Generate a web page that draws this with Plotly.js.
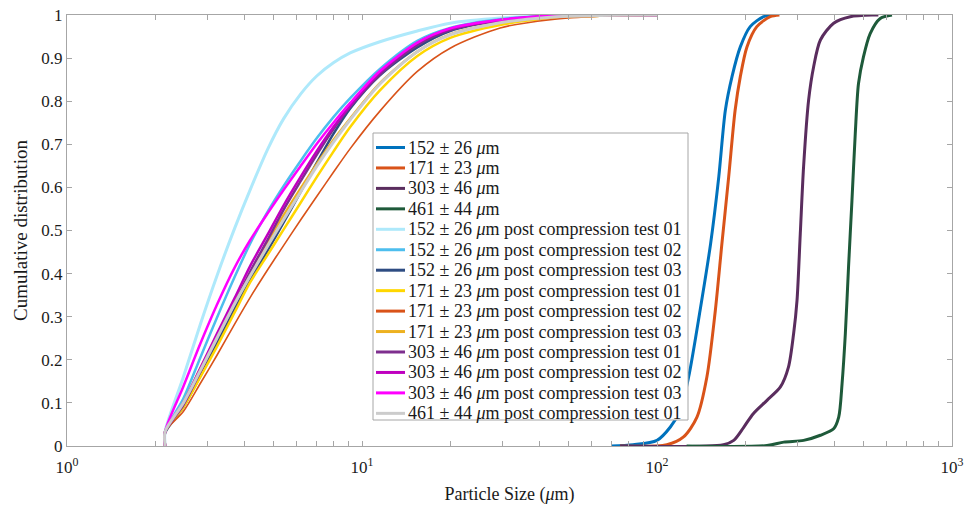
<!DOCTYPE html>
<html>
<head>
<meta charset="utf-8">
<script src="https://cdn.plot.ly/plotly-3.0.1.min.js"></script>
<style>
  html, body { margin: 0; padding: 0; background: #ffffff; }
  #chart { width: 967px; height: 508px; }
</style>
</head>
<body>
<div id="chart"></div>
<script>
// Cumulative particle size distributions: as-received powders and post-compression samples.

// ---- as-received powders ----
const blueX   = [70, 83, 100, 111, 120, 128, 140, 152, 162, 170.5, 179.6, 191.6, 207, 229.7, 250];
const blueY   = [0, 0.003, 0.013, 0.044, 0.083, 0.16, 0.315, 0.47, 0.625, 0.779, 0.857, 0.926, 0.973, 0.996, 1];
const orangeX = [75, 108, 123, 136.6, 147.6, 157.7, 166, 175, 184, 191.6, 201.8, 218, 242, 260];
const orangeY = [0, 0.003, 0.021, 0.067, 0.16, 0.315, 0.47, 0.625, 0.779, 0.857, 0.926, 0.973, 0.996, 1];
const plumX   = [75, 168, 182, 197, 212, 236, 262, 279, 290.5, 298.3, 306, 314, 326.6, 339.6, 358, 397, 452, 542, 563];
const plumY   = [0, 0.003, 0.013, 0.044, 0.075, 0.106, 0.137, 0.183, 0.261, 0.338, 0.493, 0.648, 0.803, 0.88, 0.942, 0.981, 0.996, 1, 1];
const greenX  = [126, 236, 269, 314, 358, 397, 413, 424, 435, 446, 458, 470, 482, 501, 528, 571, 626];
const greenY  = [0, 0.001, 0.009, 0.013, 0.025, 0.04, 0.067, 0.145, 0.261, 0.416, 0.57, 0.725, 0.841, 0.903, 0.957, 0.992, 1];

// ---- post-compression samples (shared size grid, µm) ----
const postX = [2.15, 2.15, 2.48, 2.83, 3.22, 3.7, 4.18, 4.8, 5.42, 6.2, 7.04, 8.0, 9.12, 11.5, 15.4, 19.9, 29.4, 43.5, 64, 100];
const p152t1 = [0, 0.033, 0.16, 0.282, 0.394, 0.505, 0.595, 0.69, 0.759, 0.817, 0.859, 0.889, 0.912, 0.938, 0.963, 0.981, 0.993, 0.998, 1, 1];
const p152t2 = [0, 0.033, 0.11, 0.205, 0.297, 0.392, 0.47, 0.545, 0.603, 0.662, 0.715, 0.763, 0.807, 0.875, 0.94, 0.97, 0.99, 0.998, 1, 1];
const p152t3 = [0, 0.030, 0.09, 0.162, 0.237, 0.318, 0.385, 0.455, 0.518, 0.59, 0.658, 0.724, 0.783, 0.86, 0.925, 0.963, 0.987, 0.997, 1, 1];
const p171t1 = [0, 0.033, 0.09, 0.16, 0.23, 0.31, 0.38, 0.445, 0.502, 0.565, 0.625, 0.683, 0.74, 0.825, 0.905, 0.947, 0.977, 0.993, 0.998, 1];
const p171t2 = [0, 0.033, 0.08, 0.145, 0.21, 0.283, 0.345, 0.41, 0.465, 0.525, 0.58, 0.635, 0.69, 0.777, 0.869, 0.923, 0.97, 0.989, 0.997, 1];
const p171t3 = [0, 0.033, 0.10, 0.18, 0.255, 0.335, 0.403, 0.475, 0.535, 0.598, 0.655, 0.71, 0.76, 0.842, 0.915, 0.955, 0.982, 0.995, 0.999, 1];
const p303t1 = [0, 0.033, 0.095, 0.172, 0.25, 0.33, 0.405, 0.48, 0.548, 0.615, 0.677, 0.735, 0.787, 0.862, 0.93, 0.965, 0.987, 0.997, 1, 1];
const p303t2 = [0, 0.033, 0.10, 0.18, 0.26, 0.343, 0.418, 0.492, 0.558, 0.625, 0.685, 0.74, 0.79, 0.867, 0.935, 0.968, 0.988, 0.998, 1, 1];
const p303t3 = [0, 0.033, 0.138, 0.237, 0.327, 0.414, 0.478, 0.541, 0.594, 0.65, 0.702, 0.75, 0.796, 0.87, 0.936, 0.969, 0.989, 0.998, 1, 1];
const p461t1 = [0, 0.033, 0.10, 0.175, 0.25, 0.33, 0.395, 0.465, 0.525, 0.59, 0.65, 0.705, 0.757, 0.84, 0.915, 0.954, 0.982, 0.995, 0.999, 1];

// ---- series names ----
const names = [
  '152 ± 26 <i>μ</i>m',
  '171 ± 23 <i>μ</i>m',
  '303 ± 46 <i>μ</i>m',
  '461 ± 44 <i>μ</i>m',
  '152 ± 26 <i>μ</i>m post compression test 01',
  '152 ± 26 <i>μ</i>m post compression test 02',
  '152 ± 26 <i>μ</i>m post compression test 03',
  '171 ± 23 <i>μ</i>m post compression test 01',
  '171 ± 23 <i>μ</i>m post compression test 02',
  '171 ± 23 <i>μ</i>m post compression test 03',
  '303 ± 46 <i>μ</i>m post compression test 01',
  '303 ± 46 <i>μ</i>m post compression test 02',
  '303 ± 46 <i>μ</i>m post compression test 03',
  '461 ± 44 <i>μ</i>m post compression test 01'
];

// ---- axis tick labels ----
const yTickVals = [0, 0.1, 0.2, 0.3, 0.4, 0.5, 0.6, 0.7, 0.8, 0.9, 1];
const yTickText = ['0', '0.1', '0.2', '0.3', '0.4', '0.5', '0.6', '0.7', '0.8', '0.9', '1'];
const xDecades = [1, 10, 100, 1000];
const xDecadeText = ['10<sup>0</sup>', '10<sup>1</sup>', '10<sup>2</sup>', '10<sup>3</sup>'];

// log axis: a tick at every integer multiple inside each decade, labels only on decades
const xTickVals = [];
const xTickText = [];
for (let d = 0; d < xDecades.length; d++) {
  const base = xDecades[d];
  const last = d === xDecades.length - 1 ? 1 : 9;
  for (let m = 1; m <= last; m++) {
    xTickVals.push(base * m);
    xTickText.push(m === 1 ? xDecadeText[d] : '');
  }
}

const series = [
  { x: blueX,   y: blueY,   color: '#0072BD', w: 3 },
  { x: orangeX, y: orangeY, color: '#D95319', w: 3 },
  { x: plumX,   y: plumY,   color: '#5A2D5E', w: 3 },
  { x: greenX,  y: greenY,  color: '#1E5A3A', w: 3 },
  { x: postX,   y: p152t1,  color: '#AEE9FB', w: 3 },
  { x: postX,   y: p152t2,  color: '#4DBEEE', w: 2.5 },
  { x: postX,   y: p152t3,  color: '#2E4C82', w: 2.5 },
  { x: postX,   y: p171t1,  color: '#FFD700', w: 2.5 },
  { x: postX,   y: p171t2,  color: '#D95319', w: 1.6 },
  { x: postX,   y: p171t3,  color: '#EDB120', w: 2.5 },
  { x: postX,   y: p303t1,  color: '#7E2F8E', w: 2.5 },
  { x: postX,   y: p303t2,  color: '#BF00BF', w: 2.5 },
  { x: postX,   y: p303t3,  color: '#FF00FF', w: 2.5 },
  { x: postX,   y: p461t1,  color: '#CCCCCC', w: 3 }
];

const traces = series.map((s, i) => ({
  type: 'scatter',
  mode: 'lines',
  x: s.x,
  y: s.y,
  name: names[i],
  showlegend: false,
  line: { color: s.color, width: s.w, shape: 'spline', smoothing: 0.8 },
  hoverinfo: 'skip'
}));

const serif = '"Liberation Serif", "Times New Roman", Times, serif';
const ink = '#1a1a1a';
const axisGray = '#A6A6A6';

// plot-area geometry (px) used to place the legend box in paper units
const M = { l: 67, r: 15, t: 15, b: 62 };
const PW = 967 - M.l - M.r;
const PH = 508 - M.t - M.b;
const px2x = (px) => (px - M.l) / PW;
const px2y = (py) => (508 - M.b - py) / PH;

// legend box, drawn as shapes + annotations so the rows stay compact
const legBox = { x0: 373, x1: 688, y0: 133, y1: 420 };
const rowTop = 147.5, rowGap = 20.45;
const shapes = [{
  type: 'rect', xref: 'paper', yref: 'paper',
  x0: px2x(legBox.x0), x1: px2x(legBox.x1), y0: px2y(legBox.y1), y1: px2y(legBox.y0),
  fillcolor: '#ffffff', line: { color: '#A6A6A6', width: 1 }, layer: 'above'
}];
const annotations = [];
series.forEach((s, i) => {
  const cy = rowTop + i * rowGap;
  shapes.push({
    type: 'line', xref: 'paper', yref: 'paper', layer: 'above',
    x0: px2x(376), x1: px2x(405), y0: px2y(cy), y1: px2y(cy),
    line: { color: s.color, width: 3 }
  });
  annotations.push({
    xref: 'paper', yref: 'paper', x: px2x(406), y: px2y(cy),
    xanchor: 'left', yanchor: 'middle', showarrow: false,
    text: names[i], font: { family: serif, size: 18, color: ink }
  });
});

const layout = {
  width: 967,
  height: 508,
  margin: M,
  paper_bgcolor: '#ffffff',
  plot_bgcolor: '#ffffff',
  font: { family: serif, size: 16, color: ink },
  showlegend: false,
  shapes: shapes,
  annotations: annotations,
  xaxis: {
    type: 'log',
    range: [0, 3],
    tickmode: 'array',
    tickvals: xTickVals,
    ticktext: xTickText,
    ticks: 'inside', ticklen: 5, tickwidth: 1, tickcolor: axisGray,
    showline: true, linecolor: axisGray, linewidth: 1, mirror: 'ticks',
    showgrid: false, zeroline: false,
    ticklabelstandoff: 6,
    tickfont: { family: serif, size: 17, color: ink },
    title: { text: 'Particle Size (<i>μ</i>m)', font: { family: serif, size: 18, color: ink }, standoff: 10 }
  },
  yaxis: {
    range: [0, 1],
    tickmode: 'array',
    tickvals: yTickVals,
    ticktext: yTickText,
    ticks: 'inside', ticklen: 5, tickwidth: 1, tickcolor: axisGray,
    showline: true, linecolor: axisGray, linewidth: 1, mirror: 'ticks',
    showgrid: false, zeroline: false,
    tickfont: { family: serif, size: 17, color: ink },
    title: { text: 'Cumulative distribution', font: { family: serif, size: 19, color: ink }, standoff: 8 }
  }
};

Plotly.newPlot('chart', traces, layout, { staticPlot: true, displayModeBar: false });
</script>
</body>
</html>
